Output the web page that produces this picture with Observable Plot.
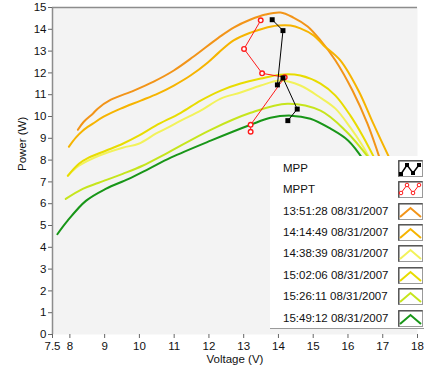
<!DOCTYPE html>
<html>
<head>
<meta charset="utf-8">
<script src="https://cdn.jsdelivr.net/npm/d3@7"></script>
<script src="https://cdn.jsdelivr.net/npm/@observablehq/plot@0.6"></script>
<style>
  html, body { margin: 0; padding: 0; background: #fff; }
  #wrap { position: relative; width: 429px; height: 372px; font-family: "Liberation Sans", Arial, sans-serif; }
  #legend { position: absolute; left: 270px; top: 156px; width: 154px; height: 172px; background: #fff; border-bottom: 1px solid #9a9a9a; }
  .row { position: absolute; left: 0; width: 154px; height: 17px; }
  .row span { position: absolute; left: 13px; top: 1px; font-size: 11.5px; line-height: 15px; color: #111; white-space: nowrap; }
  .row svg { position: absolute; left: 128px; top: 0; }
</style>
</head>
<body>
<div id="wrap"></div>
<script>
// Series names (legend order)
const seriesNames = ["13:51:28 08/31/2007", "14:14:49 08/31/2007", "14:38:39 08/31/2007",
                     "15:02:06 08/31/2007", "15:26:11 08/31/2007", "15:49:12 08/31/2007"];
const seriesColors = ["#f29418", "#f6b400", "#f2f25a", "#e8dc00", "#c6e51c", "#189618"];

// Voltage (V), Power (W) for each I-V sweep
const s1351V = [8.23, 8.40, 8.66, 8.80, 9.18, 9.84, 10.41, 10.99, 11.56, 12.28, 12.71, 13.20, 13.63, 14.06, 14.43, 14.84, 15.21, 15.64, 16.13, 16.56, 16.93];
const s1351P = [9.39, 9.76, 10.13, 10.36, 10.77, 11.19, 11.60, 12.11, 12.75, 13.62, 14.08, 14.45, 14.68, 14.77, 14.54, 14.13, 13.49, 12.57, 11.19, 9.67, 8.00];

const s1414V = [7.97, 8.17, 8.37, 8.66, 8.97, 9.46, 10.04, 10.53, 10.99, 11.47, 11.96, 12.28, 12.71, 13.20, 13.57, 13.98, 14.35, 14.63, 15.01, 15.30, 15.78, 16.30, 16.73, 17.22];
const s1414P = [8.61, 9.03, 9.35, 9.67, 9.99, 10.36, 10.73, 11.05, 11.42, 11.88, 12.47, 12.93, 13.49, 13.85, 14.04, 14.17, 14.17, 14.04, 13.72, 13.26, 12.57, 11.19, 9.67, 8.00];

const s1438V = [7.94, 8.26, 8.83, 9.52, 9.98, 10.47, 10.76, 11.19, 11.76, 12.34, 12.91, 13.49, 14.06, 14.63, 15.21, 15.64, 16.07, 16.42, 16.65];
const s1438P = [7.28, 7.74, 8.20, 8.57, 8.75, 9.21, 9.44, 9.81, 10.27, 10.82, 11.10, 11.42, 11.65, 11.42, 10.86, 10.36, 9.49, 8.66, 8.00];

const s1502V = [7.94, 8.26, 8.54, 9.03, 9.52, 9.98, 10.47, 11.19, 11.76, 12.34, 12.91, 13.49, 14.06, 14.63, 15.21, 15.64, 16.07, 16.42, 16.79];
const s1502P = [7.28, 7.83, 8.11, 8.43, 8.75, 9.12, 9.58, 10.17, 10.73, 11.19, 11.51, 11.74, 11.92, 11.88, 11.51, 10.96, 10.04, 9.12, 8.00];

const s1526V = [7.88, 8.37, 8.83, 9.52, 10.09, 10.76, 12.05, 13.20, 14.26, 15.21, 15.93, 16.65];
const s1526P = [6.22, 6.68, 6.96, 7.37, 7.74, 8.29, 9.39, 10.17, 10.59, 10.27, 9.35, 8.00];

const s1549V = [7.64, 7.93, 8.46, 9.03, 9.69, 10.27, 10.90, 12.05, 13.20, 13.77, 14.35, 14.92, 15.50, 16.01, 16.45];
const s1549P = [4.60, 5.21, 6.13, 6.68, 7.14, 7.60, 8.11, 8.89, 9.62, 9.94, 10.04, 9.90, 9.44, 8.89, 8.00];

// Maximum power points (measured) and MPPT tracker points
const mppV = [13.82, 14.13, 13.97, 14.13, 14.54, 14.27];
const mppP = [14.44, 13.94, 11.45, 11.77, 10.34, 9.81];
const mpptV = [13.49, 13.01, 13.53, 14.18, 13.20, 13.20];
const mpptP = [14.41, 13.10, 11.98, 11.80, 9.62, 9.30];

// Axis ticks
const xTicks = [7.5, 8, 9, 10, 11, 12, 13, 14, 15, 16, 17, 18];
const yTicks = d3.range(0, 16);

const seriesV = [s1351V, s1414V, s1438V, s1502V, s1526V, s1549V];
const seriesP = [s1351P, s1414P, s1438P, s1502P, s1526P, s1549P];
const curves = seriesNames.flatMap((name, i) => seriesV[i].map((v, j) => ({series: name, V: v, P: seriesP[i][j]})));
const mpp = mppV.map((v, i) => ({V: v, P: mppP[i]}));
const mppt = mpptV.map((v, i) => ({V: v, P: mpptP[i]}));

const chart = Plot.plot({
  width: 429,
  height: 372,
  marginLeft: 52,
  marginRight: 12,
  marginTop: 7,
  marginBottom: 38,
  style: {fontFamily: "Liberation Sans, Arial, sans-serif", fontSize: "11.5px", background: "transparent"},
  x: {domain: [7.5, 18], label: null},
  y: {domain: [0, 15], label: null},
  color: {domain: seriesNames, range: seriesColors},
  marks: [
    Plot.frame({fill: "#f3f3f3", stroke: null}),
    Plot.ruleY([15], {stroke: "#8c8c8c", strokeWidth: 1.5}),
    Plot.ruleX([7.5], {stroke: "#8c8c8c", strokeWidth: 1.5}),
    Plot.axisY({ticks: yTicks, tickSize: 4, tickPadding: 2, stroke: "#666", fill: "#111", label: null}),
    Plot.axisX({ticks: xTicks, tickSize: 4, tickPadding: 3, stroke: "#666", fill: "#111", label: null,
                tickFormat: d => d === 7.5 ? "7.5" : String(d)}),
    Plot.text(["Power (W)"], {frameAnchor: "left", dx: -30, rotate: -90, fill: "#111"}),
    Plot.text(["Voltage (V)"], {frameAnchor: "bottom", dy: 28, fill: "#111"}),
    Plot.line(curves, {x: "V", y: "P", z: "series", stroke: "series", strokeWidth: 2, curve: "catmull-rom"}),
    Plot.line(mppt, {x: "V", y: "P", stroke: "#ff1a1a", strokeWidth: 1}),
    Plot.dot(mppt, {x: "V", y: "P", stroke: "#ff1a1a", fill: "#fff", r: 2.3, strokeWidth: 1.4}),
    Plot.line(mpp, {x: "V", y: "P", stroke: "#000", strokeWidth: 1}),
    Plot.dot(mpp, {x: "V", y: "P", symbol: "square", fill: "#000", r: 2.8})
  ]
});

const wrap = document.getElementById("wrap");
wrap.appendChild(chart);

// Legend overlay
const legend = document.createElement("div");
legend.id = "legend";
wrap.appendChild(legend);
const legendItems = [
  {label: "MPP", kind: "mpp"},
  {label: "MPPT", kind: "mppt"},
  ...seriesNames.map((n, i) => ({label: n, kind: "line", color: seriesColors[i]}))
];
legendItems.forEach((item, i) => {
  const row = document.createElement("div");
  row.className = "row";
  row.style.top = (3.8 + i * 21.4) + "px";
  const span = document.createElement("span");
  span.textContent = item.label;
  row.appendChild(span);
  let inner = "";
  if (item.kind === "mpp") {
    inner = `<polyline points="3,14 9,5 15,13 21,5" fill="none" stroke="#000" stroke-width="1.5"/>` +
            `<rect x="7" y="3" width="4" height="4" fill="#000"/><rect x="13" y="11" width="4" height="4" fill="#000"/>` +
            `<rect x="1" y="12" width="4" height="4" fill="#000"/><rect x="19" y="3" width="4" height="4" fill="#000"/>`;
  } else if (item.kind === "mppt") {
    inner = `<polyline points="3,12 9,4 15,12 21,4" fill="none" stroke="#ff1a1a" stroke-width="1"/>` +
            `<circle cx="3" cy="12" r="1.8" fill="#fff" stroke="#ff1a1a"/><circle cx="9" cy="4" r="1.8" fill="#fff" stroke="#ff1a1a"/>` +
            `<circle cx="15" cy="12" r="1.8" fill="#fff" stroke="#ff1a1a"/><circle cx="21" cy="4" r="1.8" fill="#fff" stroke="#ff1a1a"/>`;
  } else {
    inner = `<polyline points="2,14 12.5,5 23,14" fill="none" stroke="${item.color}" stroke-width="2"/>`;
  }
  row.insertAdjacentHTML("beforeend",
    `<svg width="25" height="17" viewBox="0 0 25 17">` +
    `<rect x="0.5" y="0.5" width="24" height="16" fill="#fff" stroke="#9a9a9a"/>` +
    `<line x1="0.5" y1="0.8" x2="24.5" y2="0.8" stroke="#555" stroke-width="1.5"/>` +
    `<line x1="0.8" y1="0.5" x2="0.8" y2="16.5" stroke="#555" stroke-width="1.5"/>` +
    inner + `</svg>`);
  legend.appendChild(row);
});
</script>
</body>
</html>
